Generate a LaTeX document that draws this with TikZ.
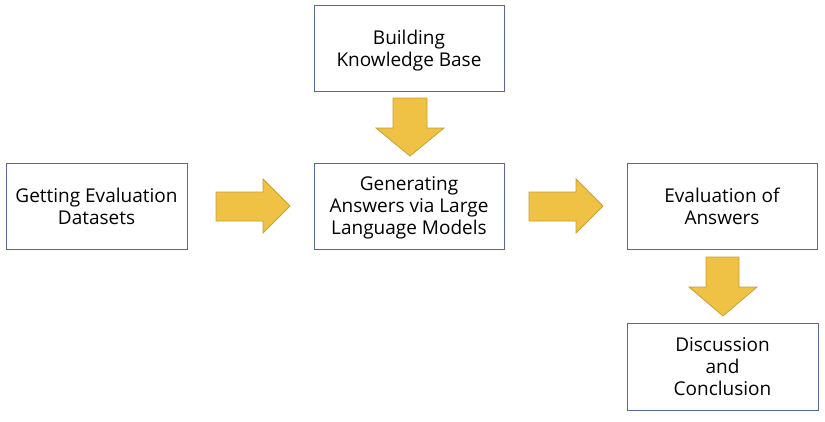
\documentclass[tikz,border=0pt]{standalone}
\usepackage{fontspec}
\setmainfont{Open Sans}
\definecolor{boxline}{HTML}{5566A0}
\definecolor{arrowfill}{HTML}{EFC145}
\definecolor{arrowline}{HTML}{C9A030}
\begin{document}
\begin{tikzpicture}[x=1pt,y=-1pt,
  stage/.style={draw=boxline,line width=1pt,fill=white,minimum width=190pt,minimum height=86pt,align=center,font=\fontsize{19}{22}\selectfont,inner sep=0pt,text depth=0pt},
  blockarrow/.style={fill=arrowfill,draw=arrowline,line width=0.8pt,line join=miter}]
\useasboundingbox (0,0) rectangle (825,421);
\node[stage] (kb) at (409,48) {Building\\Knowledge Base};
\node[stage] (gen) at (409,206) {Generating\\Answers via Large\\Language Models};
\node[stage,minimum width=181pt] (get) at (96.5,206.5) {Getting Evaluation\\Datasets};
\node[stage] (eval) at (722,206.5) {Evaluation of\\Answers};
\node[stage,minimum width=191pt,minimum height=87pt] (disc) at (722.5,367) {Discussion\\and\\Conclusion};
% down arrow KB -> gen
\draw[blockarrow] (393,98) -- (427,98) -- (427,128) -- (444,128) -- (410,156) -- (376,128) -- (393,128) -- cycle;
% right arrow get -> gen
\draw[blockarrow] (216,192) -- (263,192) -- (263,179) -- (290,206) -- (263,233) -- (263,221) -- (216,221) -- cycle;
% right arrow gen -> eval
\draw[blockarrow] (529,192) -- (576,192) -- (576,179) -- (603,206) -- (576,233) -- (576,221) -- (529,221) -- cycle;
% down arrow eval -> disc
\draw[blockarrow] (706,257) -- (739,257) -- (739,287) -- (757,287) -- (723,316) -- (689,287) -- (706,287) -- cycle;
\end{tikzpicture}
\end{document}
